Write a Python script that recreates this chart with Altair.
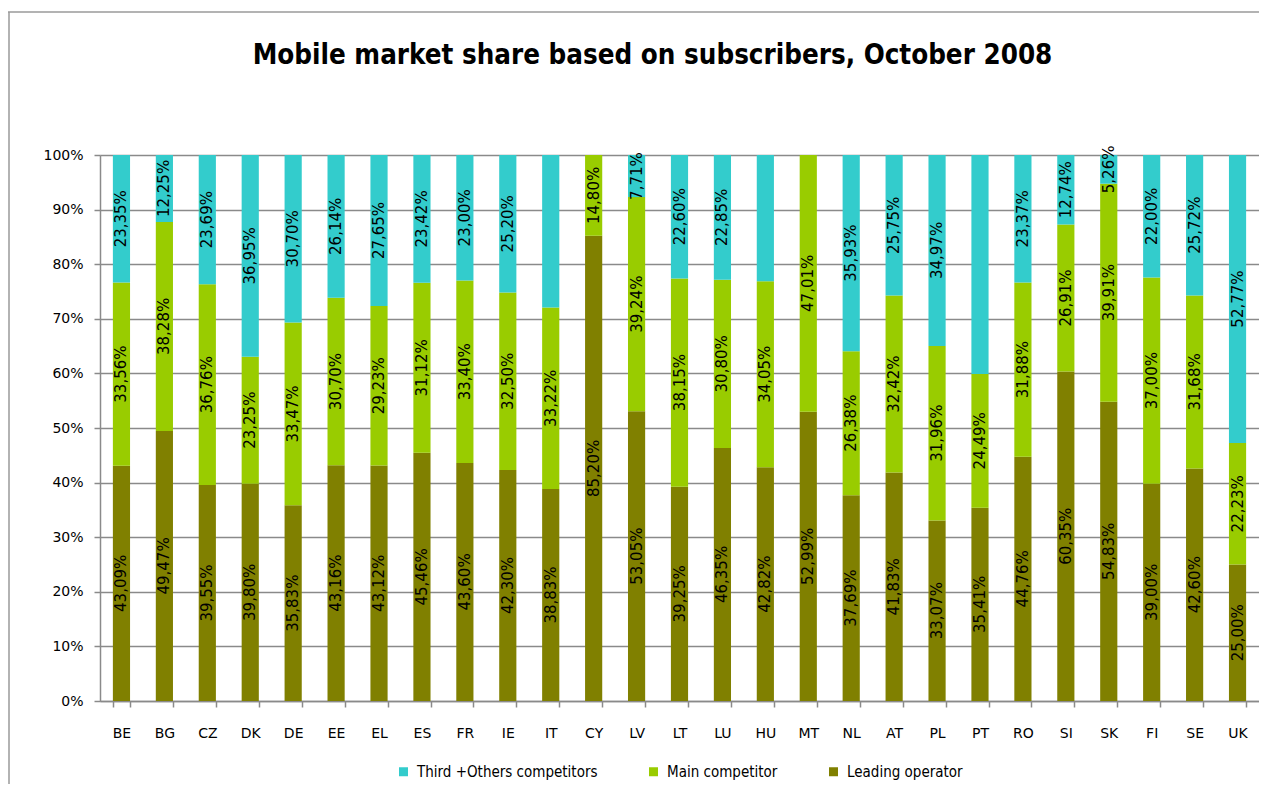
import altair as alt
import pandas as pd

countries = ["BE", "BG", "CZ", "DK", "DE", "EE", "EL", "ES", "FR", "IE", "IT", "CY", "LV", "LT",
             "LU", "HU", "MT", "NL", "AT", "PL", "PT", "RO", "SI", "SK", "FI", "SE", "UK"]

leading = [43.09, 49.47, 39.55, 39.80, 35.83, 43.16, 43.12, 45.46, 43.60, 42.30, 38.83, 85.20, 53.05, 39.25,
           46.35, 42.82, 52.99, 37.69, 41.83, 33.07, 35.41, 44.76, 60.35, 54.83, 39.00, 42.60, 25.00]
main = [33.56, 38.28, 36.76, 23.25, 33.47, 30.70, 29.23, 31.12, 33.40, 32.50, 33.22, 14.80, 39.24, 38.15,
        30.80, 34.05, 47.01, 26.38, 32.42, 31.96, 24.49, 31.88, 26.91, 39.91, 37.00, 31.68, 22.23]
third = [23.35, 12.25, 23.69, 36.95, 30.70, 26.14, 27.65, 23.42, 23.00, 25.20, 27.95, 0.00, 7.71, 22.60,
         22.85, 23.13, 0.00, 35.93, 25.75, 34.97, 40.10, 23.37, 12.74, 5.26, 22.00, 25.72, 52.77]
# countries whose "third" segment carries no value label in the original
third_unlabelled = ["IT", "CY", "HU", "MT", "PT"]

series_names = ["Third +Others competitors", "Main competitor", "Leading operator"]
series_colors = ["#33CCCC", "#99CC00", "#808000"]

rows = []
for i, c in enumerate(countries):
    rows.append({"country": c, "series": "Leading operator", "order": 0, "value": leading[i], "show": True})
    rows.append({"country": c, "series": "Main competitor", "order": 1, "value": main[i], "show": True})
    rows.append({"country": c, "series": "Third +Others competitors", "order": 2, "value": third[i],
                 "show": c not in third_unlabelled})
df = pd.DataFrame(rows)

FONT = "DejaVu Sans"
GRID = "#8A8A8A"

base = alt.Chart(df).transform_stack(
    stack="value", groupby=["country"], sort=[alt.SortField("order", order="ascending")],
    offset="normalize", as_=["n0", "n1"]
).transform_calculate(
    y0="datum.n0 * 100", y1="datum.n1 * 100", mid="(datum.n0 + datum.n1) * 50"
)

xenc = alt.X(
    "country:N", sort=countries, title=None,
    scale=alt.Scale(paddingInner=0.6, paddingOuter=0.3),
    axis=alt.Axis(labelAngle=0, tickBand="extent", tickSize=6, tickColor=GRID, domainColor=GRID,
                  domainWidth=1.5, tickWidth=1.5,
                  labelFont=FONT, labelFontSize=14, labelColor="black", labelPadding=19, grid=False),
)

bars = base.mark_bar().encode(
    x=xenc,
    y=alt.Y("y0:Q", title=None, scale=alt.Scale(domain=[0, 100], nice=False),
            axis=alt.Axis(values=list(range(0, 101, 10)), labelExpr="datum.value + '%'",
                          tickSize=6, tickColor=GRID, domainColor=GRID, gridColor=GRID, grid=True,
                          domainWidth=1.5, tickWidth=1.5, gridWidth=1.3,
                          labelFont=FONT, labelFontSize=14, labelColor="black", labelPadding=11)),
    y2="y1:Q",
    color=alt.Color("series:N", scale=alt.Scale(domain=series_names, range=series_colors),
                    legend=alt.Legend(title=None, orient="none", legendX=296, legendY=609,
                                      direction="horizontal", symbolType="square", symbolSize=81,
                                      symbolStrokeWidth=0, labelFont="DejaVu Sans Condensed",
                                      labelFontSize=15, labelColor="black", labelOffset=6,
                                      labelLimit=400, columnPadding=48, padding=0)),
)

labels = base.transform_filter("datum.show").transform_calculate(
    label="replace(format(datum.value, '.2f'), '.', ',') + '%'"
).mark_text(angle=270, font=FONT, fontSize=15, color="black", align="center", baseline="middle").encode(
    x=alt.X("country:N", sort=countries),
    y=alt.Y("mid:Q"),
    text="label:N",
)

border_df = pd.DataFrame({"k": [0]})
border_top = alt.Chart(border_df).mark_rule(color="#9A9A9A", strokeWidth=1.5).encode(
    x=alt.value(-92), x2=alt.value(1160), y=alt.value(-143))
border_left = alt.Chart(border_df).mark_rule(color="#9A9A9A", strokeWidth=1.5).encode(
    x=alt.value(-91), y=alt.value(-143), y2=alt.value(640))

chart = alt.layer(bars, labels, border_top, border_left).properties(
    width=1159, height=546,
    title=alt.TitleParams("Mobile market share based on subscribers, October 2008",
                          font="DejaVu Sans Condensed", fontWeight="bold", fontSize=27.5,
                          color="black", anchor="middle", frame="group", dx=-27,
                          baseline="alphabetic", offset=-80),
    autosize=alt.AutoSizeParams(type="none"),
    padding={"left": 92, "top": 147, "right": 0, "bottom": 83},
).configure_view(stroke=None).configure(background="white")

chart.save("out.html", embed_options={"renderer": "svg", "actions": False})
